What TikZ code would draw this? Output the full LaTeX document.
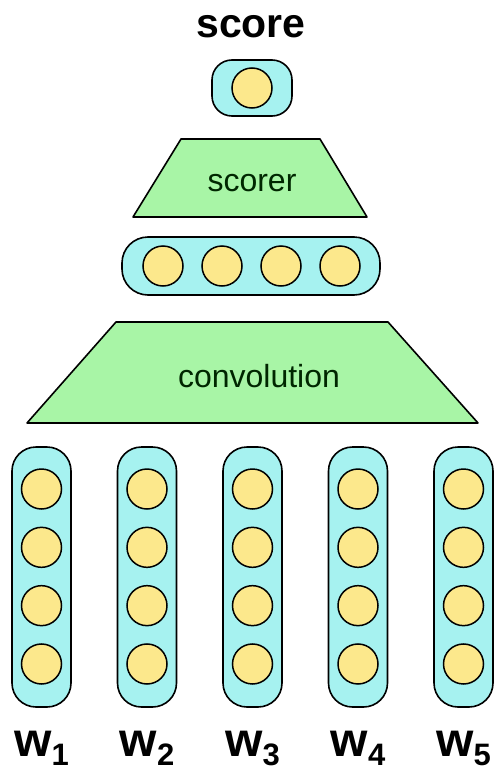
\documentclass[tikz,border=0pt]{standalone}
\usepackage{fontspec}
\setmainfont{Liberation Sans}
\begin{document}
\begin{tikzpicture}[x=1pt,y=-1pt,
  vecbox/.style={draw=black,line width=1.6pt,fill=cyanfill,rounded corners=24pt,inner sep=0pt},
  unit/.style={circle,draw=black,line width=1.5pt,fill=unitfill,minimum size=40pt,inner sep=0pt},
  layer/.style={draw=black,line width=1.6pt,fill=layerfill,line join=round},
  layertext/.style={font=\fontsize{32}{32}\selectfont,anchor=base,text=black!85!green},
  wlabel/.style={font=\fontsize{48}{48}\selectfont\bfseries,anchor=base,inner sep=0pt}]
\definecolor{cyanfill}{HTML}{A6F2F0}
\definecolor{unitfill}{HTML}{FCE88C}
\definecolor{layerfill}{HTML}{A8F5A6}
\useasboundingbox (0,0) rectangle (495,771);

% output score
\node[font=\fontsize{41}{41}\selectfont\bfseries,anchor=base] (scorelabel) at (251,37) {score};
\node[vecbox,minimum width=80pt,minimum height=56pt,rounded corners=20pt] (outbox) at (252,88) {};
\node[unit] (out) at (252,88) {};

% scorer layer
\draw[layer] (181,139) -- (320,139) -- (367,217) -- (133,217) -- cycle;
\node[layertext] (scorer) at (252,191) {scorer};

% hidden vector
\node[vecbox,minimum width=258pt,minimum height=58pt,rounded corners=26pt] (hidbox) at (251,266) {};
\foreach \i/\x in {1/163,2/222,3/281,4/340}
  \node[unit] (h\i) at (\x,266) {};

% convolution layer
\draw[layer] (116,322) -- (388,322) -- (478,423) -- (27,423) -- cycle;
\node[layertext] (conv) at (259,387) {convolution};

% word vectors
\foreach \k in {1,...,5}{
  \pgfmathsetmacro{\cx}{41.5+105.5*(\k-1)}
  \node[vecbox,minimum width=59pt,minimum height=260pt,rounded corners=24pt] (col\k) at (\cx,577) {};
  \foreach \j in {1,...,4}{
    \pgfmathsetmacro{\cy}{489+58.33*(\j-1)}
    \node[unit] (u\k\j) at (\cx,\cy) {};
  }
  \node[wlabel] (w\k) at (\cx,756) {w\raisebox{-9pt}{\fontsize{31}{31}\selectfont\bfseries\k}};
}
\end{tikzpicture}
\end{document}
